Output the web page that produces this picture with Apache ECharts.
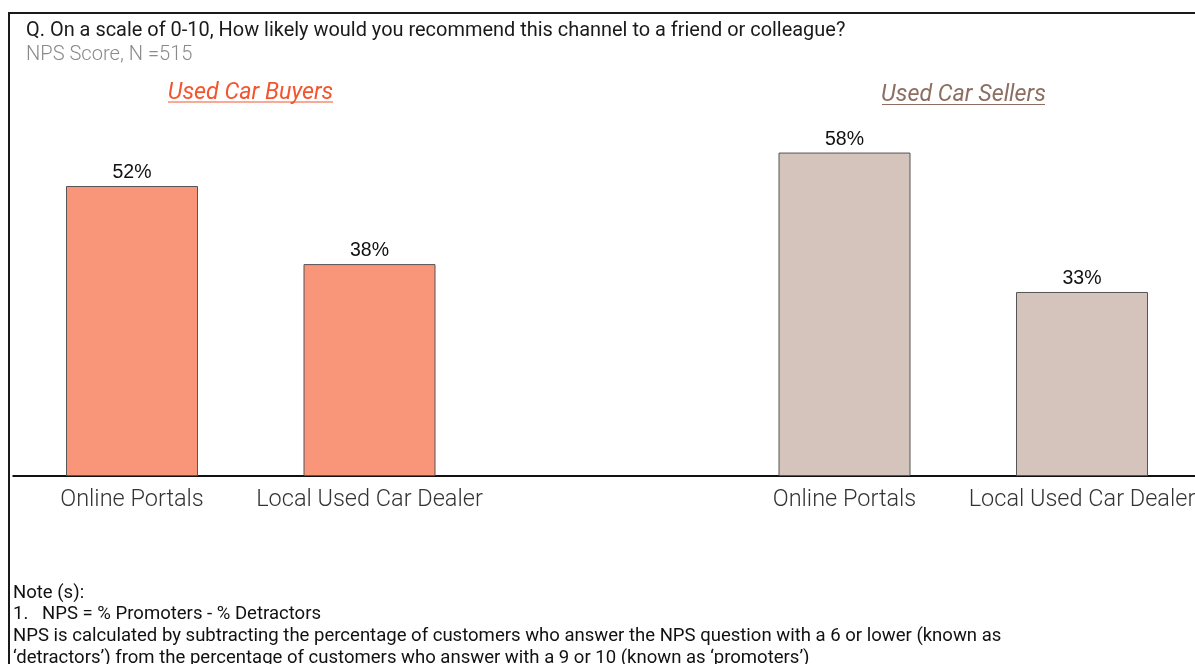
<!DOCTYPE html>
<html>
<head>
<meta charset="utf-8">
<script src="https://cdn.jsdelivr.net/npm/echarts@6/dist/echarts.min.js"></script>
<style>
html,body{margin:0;padding:0;background:#fff;}
#c{width:1195px;height:664px;}
</style>
</head>
<body>
<div id="c"></div>
<script>
const categories = ['Online Portals', 'Local Used Car Dealer', '', 'Online Portals', 'Local Used Car Dealer'];
const npsValues = [52, 38, null, 58, 33];
const groupOfBar = ['buyers', 'buyers', null, 'sellers', 'sellers'];
const groupTitles = ['Used Car Buyers', 'Used Car Sellers'];
const questionText = 'Q. On a scale of 0-10, How likely would you recommend this channel to a friend or colleague?';
const subText = 'NPS Score, N =515';
const noteLines = [
  'Note (s):',
  '1.   NPS = % Promoters - % Detractors',
  'NPS is calculated by subtracting the percentage of customers who answer the NPS question with a 6 or lower (known as',
  '\u2018detractors\u2019) from the percentage of customers who answer with a 9 or 10 (known as \u2018promoters\u2019)'
];

const colors = { buyers: '#F9967A', sellers: '#D5C4BC' };
const titleColors = ['#F4552E', '#8D6E63'];

const chart = echarts.init(document.getElementById('c'), null, { renderer: 'canvas' });

const seriesData = npsValues.map((v, i) => v == null ? '-' : {
  value: v,
  itemStyle: { color: colors[groupOfBar[i]], borderColor: '#555', borderWidth: 1 }
});

const graphics = [
  { type: 'line', shape: { x1: 9, y1: 13, x2: 1195, y2: 13 }, style: { stroke: '#1a1a1a', lineWidth: 2 } },
  { type: 'line', shape: { x1: 9, y1: 12, x2: 9, y2: 664 }, style: { stroke: '#1a1a1a', lineWidth: 2 } },
  { type: 'text', x: 26, y: 31, style: { text: questionText, font: '19.95px Roboto', fill: '#1a1a1a', verticalAlign: 'middle' } },
  { type: 'text', x: 26, y: 55, style: { text: subText, font: '300 20.1px Roboto', fill: '#8a8a8a', verticalAlign: 'middle' } },
  { type: 'text', x: 250.5, y: 93.5, style: { text: groupTitles[0], font: 'italic 23.3px Roboto', fill: titleColors[0], align: 'center', verticalAlign: 'middle' } },
  { type: 'line', shape: { x1: 168, y1: 102, x2: 333, y2: 102 }, style: { stroke: titleColors[0], lineWidth: 1.2 } },
  { type: 'text', x: 963.5, y: 95.5, style: { text: groupTitles[1], font: 'italic 23.3px Roboto', fill: titleColors[1], align: 'center', verticalAlign: 'middle' } },
  { type: 'line', shape: { x1: 882, y1: 104.5, x2: 1045, y2: 104.5 }, style: { stroke: titleColors[1], lineWidth: 1.2 } }
];
noteLines.forEach((t, i) => {
  graphics.push({ type: 'text', x: 13, y: 593 + i * 21.7, style: { text: t, font: '18.55px Roboto', fill: '#111', verticalAlign: 'middle' } });
});

chart.setOption({
  animation: false,
  grid: { left: 13.25, width: 1187.5, top: 141.4, bottom: 188, containLabel: false, outerBoundsMode: 'none' },
  xAxis: {
    type: 'category',
    data: categories,
    axisLine: { show: true, lineStyle: { color: '#111', width: 2 } },
    axisTick: { show: false },
    axisLabel: { interval: 0, margin: 12, fontSize: 23.5, fontFamily: 'Roboto', fontWeight: 300, color: '#333' }
  },
  yAxis: {
    type: 'value', min: 0, max: 60, show: false,
    splitLine: { show: false }
  },
  series: [{
    type: 'bar',
    data: seriesData,
    barWidth: 132,
    label: {
      show: true, position: 'top', distance: 3,
      formatter: p => p.value + '%',
      fontSize: 19.5, fontFamily: 'Liberation Sans', color: '#111'
    }
  }],
  graphic: graphics
});
</script>
</body>
</html>
